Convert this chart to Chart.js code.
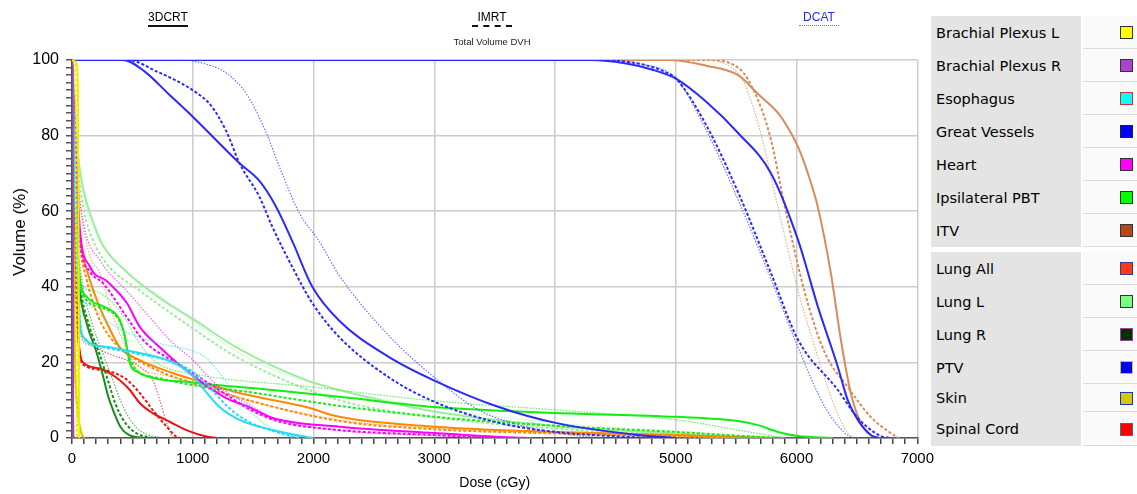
<!DOCTYPE html>
<html>
<head>
<meta charset="utf-8">
<script src="https://cdn.jsdelivr.net/npm/chart.js@4/dist/chart.umd.min.js"></script>
<style>
body { margin: 0; background: #fff; width: 1137px; height: 494px; overflow: hidden; position: relative; font-family: "Liberation Sans", Arial, sans-serif; }
#wrap { position: absolute; left: 0; top: 0; width: 940px; height: 494px; }
.plan { position: absolute; width: 90px; text-align: center; font-size: 12px; color: #000; }
.plan .mark { position: absolute; left: 25px; width: 40px; top: 15px; height: 0; }
#sub { position: absolute; left: 440px; top: 36px; width: 104px; text-align: center; font-size: 9.5px; color: #222; }
#ytitle { position: absolute; left: 20px; top: 232px; transform: translate(-50%, -50%) rotate(-90deg); font-size: 17px; white-space: nowrap; color: #000; }
#legend { position: absolute; left: 931px; top: 16px; width: 206px; }
.row { position: relative; display: flex; }
.row .lab { width: 150px; background: #e4e4e4; font-family: "DejaVu Sans", sans-serif; font-size: 14.5px; padding-left: 5px; box-sizing: border-box; color: #000; white-space: nowrap; display: flex; align-items: center; }
.row .cell { flex: 1; margin-left: 2px; border-bottom: 1px solid #dcdcdc; position: relative; background: #fafafa; }
.row .sq { position: absolute; left: 37px; top: 50%; margin-top: -6px; width: 11px; height: 11px; border: 1px solid #222; }
.gap { height: 5px; }
</style>
</head>
<body>
<div id="wrap"><canvas id="dvh" width="940" height="494"></canvas></div>

<div class="plan" style="left:123px;top:10px">3DCRT<div class="mark" style="border-top:2px solid #111"></div></div>
<div class="plan" style="left:447px;top:10px">IMRT<div class="mark" style="border-top:2px dashed #111"></div></div>
<div id="sub">Total Volume DVH</div>
<div class="plan" style="left:774px;top:10px;color:#2a2aee">DCAT<div class="mark" style="border-top:1px dotted #6a6aff"></div></div>
<div id="ytitle">Volume (%)</div>

<div id="legend"></div>

<script>
// structures shown in the legend
const structures = ['Brachial Plexus L', 'Brachial Plexus R', 'Esophagus', 'Great Vessels', 'Heart', 'Ipsilateral PBT', 'ITV',
                    'Lung All', 'Lung L', 'Lung R', 'PTV', 'Skin', 'Spinal Cord'];
const legendFill   = ['#ffff00', '#a845c8', '#00ffff', '#0000ff', '#ff00ff', '#00ff00', '#b9461b',
                      '#ff3a12', '#7cff7c', '#003300', '#0000ff', '#d6c800', '#ff0000'];
const legendEdge   = ['#333', '#333', '#d03030', '#222', '#333', '#333', '#333',
                      '#3a3a9a', '#333', '#a040a0', '#d8c800', '#2030c0', '#208080'];
const lineColors   = ['#eeee00', '#a040c0', '#22ddf5', '#2a2aff', '#ff00ff', '#11ee11', '#d88c5c',
                      '#ff8800', '#9cee9c', '#1a8c1a', '#2a2aff', '#cccc00', '#ee1111'];
const rowHeights   = [33, 33, 33, 33, 33, 33, 33, 33, 33, 33, 33, 28, 34];

// dose (cGy), volume (%); one array per plan
const bpl3DCRT = [[0,100],[40,99],[50,90],[55,50],[58,10],[60,0]];
const bplIMRT  = [[0,100],[25,99],[32,90],[36,50],[40,10],[42,0]];
const bplDCAT  = [[0,100],[20,98],[26,85],[30,50],[33,10],[35,0]];

const bpr3DCRT = [[0,100],[4,95],[7,50],[9,10],[11,0]];
const bprIMRT  = [[0,100],[3,95],[6,50],[8,10],[10,0]];
const bprDCAT  = [[0,100],[3,92],[5,50],[7,10],[9,0]];

const eso3DCRT = [[0,100],[15,80],[30,60],[50,42],[66,30],[100,26.5],[149,25.1],[314,24],[561,22.5],[834,20],[1000,16.5],[1115,12],[1222,8.2],[1387,4.8],[1660,2.1],[1940,0.3],[2000,0]];
const esoIMRT  = [[0,100],[15,78],[30,58],[50,40],[70,30],[110,26],[200,24.5],[450,22.8],[800,20.5],[1000,17.5],[1150,13],[1300,8],[1450,4.5],[1650,2],[1850,0.3],[1900,0]];
const esoDCAT  = [[0,100],[15,82],[35,62],[66,40],[150,35],[289,31],[451,28],[727,25],[1000,23],[1100,21.5],[1222,17.2],[1387,10],[1552,4.8],[1718,1.3],[1850,0]];

const gv3DCRT = [[0,100],[420,100],[600,97],[800,91],[1000,85],[1387,72.7],[1552,68],[1693,61],[1825,52],[1990,40],[2213,31],[2626,21.4],[3000,15.2],[3534,8.2],[4005,4],[4690,0.8],[5000,0]];
const gvIMRT  = [[0,100],[460,100],[700,97],[1000,92],[1150,88],[1280,81],[1387,72.7],[1552,63.8],[1660,55.8],[1825,45.2],[1990,35.7],[2213,26.7],[2626,16],[3006,9.5],[3534,4],[4005,1.6],[4600,0.3],[4800,0]];
const gvDCAT  = [[0,100],[900,100],[1100,99],[1280,96.5],[1445,91],[1610,80.7],[1718,71.7],[1883,59.5],[2048,52],[2213,43],[2626,27],[3006,15.9],[3369,7.4],[3757,3],[4137,0.8],[4400,0]];

const heart3DCRT = [[0,100],[20,85],[40,70],[66,55],[149,45.3],[289,41.5],[454,35.7],[561,29.4],[727,24],[1000,16.5],[1280,10.5],[1445,8.5],[1660,5.3],[2213,3],[3006,1.3],[3600,0.2],[3800,0]];
const heartIMRT  = [[0,100],[20,82],[40,66],[66,52],[150,44],[259,40.9],[451,32.1],[589,25.9],[864,19.8],[1057,16],[1300,11],[1445,8],[1700,4.5],[2213,2.1],[3000,0.8],[3500,0]];
const heartDCAT  = [[0,100],[20,86],[50,68],[100,56],[231,47],[451,39],[617,33],[809,25.9],[1002,20.6],[1200,14],[1445,9.2],[1700,5],[2213,2],[3000,0.6],[3500,0]];

const pbt3DCRT = [[0,100],[15,80],[30,62],[50,48],[70,41],[124,37.3],[259,34.8],[341,33.4],[396,31.2],[438,26.8],[479,19.8],[534,17.6],[1000,14.7],[1660,12.7],[2213,10.9],[3006,8.2],[4013,6.6],[5004,5.6],[5516,4.5],[5681,3.4],[5846,1.6],[6012,0.5],[6300,0]];
const pbtIMRT  = [[0,100],[15,78],[30,60],[50,46],[94,37.9],[259,34.3],[369,32.1],[424,28.6],[465,22.4],[534,18],[727,15.8],[1002,14],[1387,12.5],[2213,8.5],[3006,5.6],[4013,3.2],[5004,1.6],[5516,0.6],[5900,0]];
const pbtDCAT  = [[0,100],[15,82],[35,62],[66,41.3],[149,39.2],[314,36.5],[451,31],[560,25],[700,20],[1057,16.7],[1990,13.5],[2708,10.8],[3006,9.8],[4013,7.4],[5004,4.8],[5516,2.1],[5900,0]];

const itv3DCRT = [[0,100],[4950,100],[5250,98.5],[5516,96],[5681,91],[5846,86],[5930,82],[6012,77],[6094,70],[6177,61],[6284,43.6],[6367,26],[6449,11.9],[6532,4],[6614,0.8],[6680,0]];
const itvIMRT  = [[0,100],[5250,100],[5516,98],[5681,89.4],[5789,78.8],[5904,61],[6069,38.4],[6235,22.5],[6424,13.5],[6614,5.6],[6780,1.3],[6850,0]];
const itvDCAT  = [[0,100],[5200,100],[5516,96.5],[5681,83.3],[5846,61],[6012,39],[6177,21.4],[6317,8.2],[6424,1.3],[6480,0]];

const lungAll3DCRT = [[0,100],[20,80],[40,65],[66,53],[124,44.4],[206,36.5],[289,30.4],[396,24],[561,20.6],[834,17.2],[1000,15.5],[1387,11.9],[1940,8.2],[2213,5.6],[3006,3],[4013,1.6],[5004,0.8],[5800,0]];
const lungAllIMRT  = [[0,100],[20,78],[40,62],[66,51],[120,42],[206,33],[289,27.8],[454,22.5],[700,18],[1000,14.5],[1400,10.5],[2213,4.5],[3006,2.3],[4013,1.2],[5004,0.4],[5500,0]];
const lungAllDCAT  = [[0,100],[20,84],[50,68],[100,55],[150,48],[231,43.6],[314,34.8],[396,27.7],[504,20.6],[834,16.1],[1000,14.8],[1400,10.5],[2213,4.8],[3006,2.6],[4013,1.4],[5004,0.6],[6000,0]];

const lungL3DCRT = [[0,100],[20,90],[50,75],[100,65],[165,58],[256,51],[451,44],[727,37],[1002,31.5],[1387,23.5],[1940,15.3],[2213,12.7],[3000,7],[4000,3.2],[5000,1.2],[5600,0.2],[5800,0]];
const lungLIMRT  = [[0,100],[20,88],[50,72],[100,60],[165,53],[289,46],[561,39],[1000,29],[1387,21],[2213,10],[3000,5.5],[4000,2.5],[5000,0.8],[5500,0]];
const lungLDCAT  = [[0,100],[20,90],[50,76],[100,64],[200,54],[450,44],[727,37.5],[1000,31],[1470,21],[2000,14.5],[3000,8],[4000,4],[5000,1.8],[5800,0]];

const lungR3DCRT = [[0,100],[10,85],[25,65],[39,50],[60,40],[124,30],[200,23],[260,16],[300,11],[340,7.4],[400,3],[470,0.8],[600,0]];
const lungRIMRT  = [[0,100],[10,86],[25,67],[45,50],[70,40],[140,30],[230,22],[300,15],[360,9],[420,5],[500,2],[580,0.6],[680,0]];
const lungRDCAT  = [[0,100],[10,87],[30,68],[50,52],[80,42],[160,31],[260,22],[330,16],[400,10],[460,6],[540,2.5],[620,1],[750,0]];

const ptv3DCRT = [[0,100],[4300,100],[4600,99],[4800,97.5],[5004,95],[5250,89],[5516,80.7],[5789,70],[6012,52.4],[6177,34.7],[6342,18.8],[6424,10],[6507,4.8],[6614,0.8],[6680,0]];
const ptvIMRT  = [[0,100],[4300,100],[4700,99],[4900,97],[5004,95],[5243,83.3],[5516,65],[5789,43.6],[6012,26],[6342,12.7],[6507,5.3],[6697,0.5],[6780,0]];
const ptvDCAT  = [[0,100],[4300,100],[4700,99],[5004,95],[5243,82],[5516,63],[5789,42],[6012,24],[6235,8.2],[6400,1.3],[6460,0]];

const skin3DCRT = [[0,100],[8,70],[15,40],[25,20],[45,8],[70,2],[100,0]];
const skinIMRT  = [[0,100],[8,68],[15,38],[25,18],[45,7],[70,2],[100,0]];
const skinDCAT  = [[0,100],[8,72],[15,42],[25,21],[45,9],[70,3],[100,0]];

const cord3DCRT = [[0,100],[10,80],[20,60],[35,40],[50,28],[66,22.4],[91,20],[231,18.4],[314,17.1],[396,15.3],[479,12.7],[562,9.2],[672,6.5],[809,4.3],[947,2.1],[1112,0.4],[1200,0]];
const cordIMRT  = [[0,100],[10,78],[20,58],[35,38],[50,27],[70,21],[121,18.9],[314,17.6],[451,15.5],[561,11.9],[669,7.4],[784,3],[867,0.3],[900,0]];
const cordDCAT  = [[0,100],[10,82],[25,60],[45,40],[66,28],[150,24.5],[289,22.5],[561,18.8],[669,15.3],[727,10],[784,4],[834,0.3],[860,0]];

const curves = [
  [bpl3DCRT, bplIMRT, bplDCAT],
  [bpr3DCRT, bprIMRT, bprDCAT],
  [eso3DCRT, esoIMRT, esoDCAT],
  [gv3DCRT, gvIMRT, gvDCAT],
  [heart3DCRT, heartIMRT, heartDCAT],
  [pbt3DCRT, pbtIMRT, pbtDCAT],
  [itv3DCRT, itvIMRT, itvDCAT],
  [lungAll3DCRT, lungAllIMRT, lungAllDCAT],
  [lungL3DCRT, lungLIMRT, lungLDCAT],
  [lungR3DCRT, lungRIMRT, lungRDCAT],
  [ptv3DCRT, ptvIMRT, ptvDCAT],
  [skin3DCRT, skinIMRT, skinDCAT],
  [cord3DCRT, cordIMRT, cordDCAT]
];

// line style per plan: 3DCRT solid, IMRT dashed, DCAT dotted
const planDash  = [[], [3, 2], [1.5, 1.5]];
const planWidth = [2, 2, 1.2];
const planAlpha = ['', '', 'aa'];

// legend table on the right
const legend = document.getElementById('legend');
structures.forEach((name, i) => {
  if (i === 7) {
    const g = document.createElement('div');
    g.className = 'gap';
    legend.appendChild(g);
  }
  const row = document.createElement('div');
  row.className = 'row';
  row.style.height = rowHeights[i] + 'px';
  row.innerHTML = '<div class="lab">' + name + '</div><div class="cell"><div class="sq" style="background:' +
    legendFill[i] + ';border-color:' + legendEdge[i] + '"></div></div>';
  legend.appendChild(row);
});

const datasets = [];
curves.forEach((set, s) => {
  set.forEach((pts, p) => {
    datasets.push({
      label: structures[s] + ' ' + ['3DCRT', 'IMRT', 'DCAT'][p],
      data: pts.map(d => ({ x: d[0], y: d[1] })),
      borderColor: lineColors[s] + planAlpha[p],
      borderWidth: planWidth[p],
      borderDash: planDash[p],
      pointRadius: 0,
      fill: false,
      order: structures[s] === 'ITV' ? 2 : 0,   // ITV sits under the blue 100% lines
      cubicInterpolationMode: 'monotone'
    });
  });
});

const ctx = document.getElementById('dvh').getContext('2d');
new Chart(ctx, {
  type: 'line',
  data: { datasets: datasets },
  options: {
    responsive: false,
    animation: false,
    layout: { padding: { top: 60, right: 20, left: 0, bottom: 0 } },
    plugins: { legend: { display: false }, tooltip: { enabled: false } },
    scales: {
      x: {
        type: 'linear', min: 0, max: 7000,
        ticks: {
          stepSize: 100, autoSkip: false, maxRotation: 0, color: '#000', padding: 6,
          font: { family: 'Liberation Sans', size: 15 },
          callback: v => (v % 1000 === 0 ? v : '')
        },
        grid: {
          color: c => (c.tick && c.tick.value % 1000 === 0 ? '#cccccc' : 'rgba(0,0,0,0)'),
          lineWidth: 1.5, tickColor: '#444', tickLength: 6
        },
        border: { color: '#555', width: 1.5 },
        title: { display: true, text: 'Dose (cGy)', color: '#000', font: { family: 'Liberation Sans', size: 14 }, padding: { top: 2, bottom: 2 } },
        afterFit: a => { a.height = 56; }
      },
      y: {
        min: 0, max: 100,
        ticks: {
          stepSize: 2, autoSkip: false, color: '#000', padding: 7,
          font: { family: 'Liberation Sans', size: 16 },
          callback: v => (v % 20 === 0 ? v : '')
        },
        grid: {
          color: c => (c.tick && c.tick.value % 20 === 0 ? '#cccccc' : 'rgba(0,0,0,0)'),
          lineWidth: 1.5, tickColor: '#555', tickLength: 6
        },
        border: { color: '#555', width: 1.5 },
        afterFit: a => { a.width = 72; }
      }
    }
  }
});
</script>
</body>
</html>
